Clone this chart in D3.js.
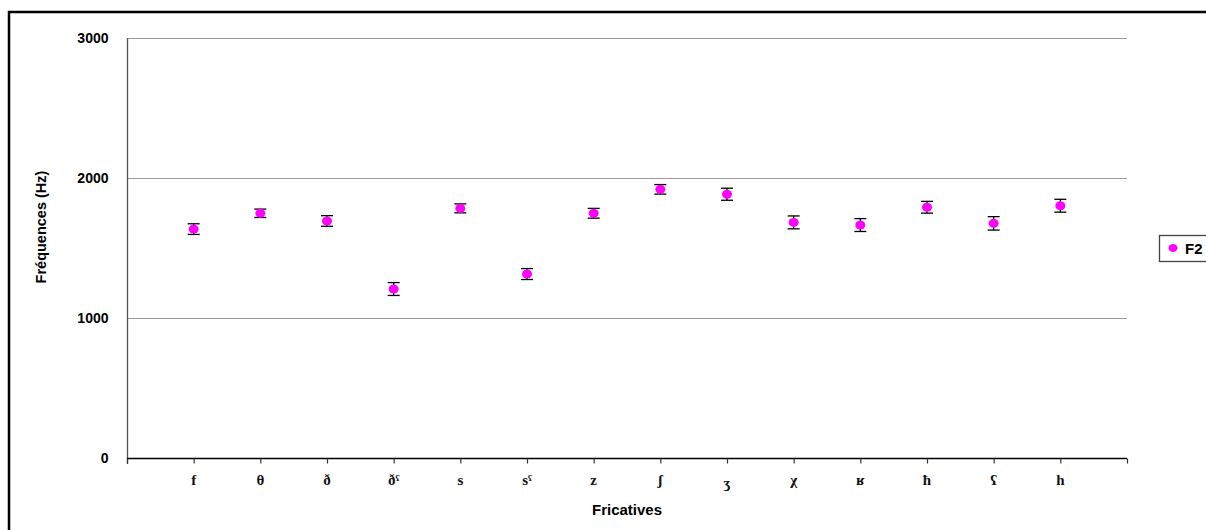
<!DOCTYPE html>
<html><head><meta charset="utf-8">
<script src="https://cdn.jsdelivr.net/npm/d3@7"></script>
<style>body{margin:0;background:#fff;}svg{display:block;}</style>
</head><body>
<svg id="c" width="1206" height="530"></svg>
<script>
const categories = ["f","θ","ð","ðˤ","s","sˤ","z","ʃ","ʒ","χ","ʁ","ħ","ʕ","h"];
const f2Means = [1635,1748,1693,1207,1783,1314,1748,1919,1884,1683,1664,1791,1676,1802];
const f2Errors = [38,30,38,46,32,39,35,34,43,46,46,42,48,46];
const yTicks = [0,1000,2000,3000];
const seriesName = "F2";

const svg = d3.select("#c");
// outer frame
svg.append("rect").attr("x",9).attr("y",12).attr("width",1300).attr("height",600)
  .attr("fill","none").attr("stroke","#000").attr("stroke-width",2.5);

const L=127, R=1127, T=38, B=458;
const x = d3.scaleLinear().domain([0,15]).range([L,R]);
const y = d3.scaleLinear().domain([0,3000]).range([B,T]);

// gridlines
svg.append("g").selectAll("line").data(yTicks.filter(d=>d>0)).join("line")
  .attr("x1",L).attr("x2",R).attr("y1",d=>y(d)+0.5).attr("y2",d=>y(d)+0.5)
  .attr("stroke","#9a9a9a").attr("stroke-width",1.2);

// y axis
const yAxis = svg.append("g").attr("transform",`translate(${L+0.5},0)`)
  .call(d3.axisLeft(y).tickValues(yTicks).tickSize(0).tickPadding(19).tickFormat(d3.format("d")));
yAxis.select(".domain").attr("stroke","#555").attr("stroke-width",1.3).attr("d",`M0,${T}V${B+6}`);
yAxis.selectAll("text").attr("font-family","Liberation Sans, Arial, sans-serif")
  .attr("font-weight","bold").attr("font-size",14).attr("fill","#000");

// x axis
const xAxis = svg.append("g").attr("transform",`translate(0,${B+0.5})`)
  .call(d3.axisBottom(x).tickValues(d3.range(0,16)).tickSize(5).tickFormat(""));
xAxis.select(".domain").attr("stroke","#000").attr("stroke-width",1.3).attr("d",`M${L},0H${R}`);
xAxis.selectAll(".tick line").attr("stroke","#333").attr("stroke-width",1.2);

// category labels
svg.append("g").selectAll("text").data(categories).join("text")
  .attr("x",(d,i)=>x(i+1)).attr("y",(d)=> d==="ʒ" ? 488 : 485)
  .attr("text-anchor","middle")
  .attr("font-family","Liberation Serif, Times New Roman, serif")
  .attr("font-weight","bold").attr("font-size",15).attr("fill","#111")
  .text(d=>d);

// axis titles
svg.append("text").attr("x",(L+R)/2).attr("y",515).attr("text-anchor","middle")
  .attr("font-family","Liberation Sans, Arial, sans-serif").attr("font-weight","bold")
  .attr("font-size",15).text("Fricatives");
svg.append("text").attr("transform","translate(46,227) rotate(-90)").attr("text-anchor","middle")
  .attr("font-family","Liberation Sans, Arial, sans-serif").attr("font-weight","bold")
  .attr("font-size",14.5).text("Fréquences (Hz)");

// error bars
const eb = svg.append("g").selectAll("g").data(f2Means).join("g");
eb.append("line").attr("x1",(d,i)=>x(i+1)).attr("x2",(d,i)=>x(i+1))
  .attr("y1",(d,i)=>y(d+f2Errors[i])).attr("y2",(d,i)=>y(d-f2Errors[i]))
  .attr("stroke","#000").attr("stroke-width",1.3);
[1,-1].forEach(s=>{
  eb.append("line").attr("x1",(d,i)=>x(i+1)-6).attr("x2",(d,i)=>x(i+1)+6)
    .attr("y1",(d,i)=>y(d+s*f2Errors[i])).attr("y2",(d,i)=>y(d+s*f2Errors[i]))
    .attr("stroke","#000").attr("stroke-width",1.3);
});
// points
svg.append("g").selectAll("ellipse").data(f2Means).join("ellipse")
  .attr("cx",(d,i)=>x(i+1)).attr("cy",d=>y(d)).attr("rx",5).attr("ry",4.5)
  .attr("fill","#ff00ff");

// legend
const lg = svg.append("g");
lg.append("rect").attr("x",1159.5).attr("y",235.5).attr("width",80).attr("height",26)
  .attr("fill","#fff").attr("stroke","#444").attr("stroke-width",1.3);
lg.append("ellipse").attr("cx",1173).attr("cy",248).attr("rx",4.5).attr("ry",4).attr("fill","#ff00ff");
lg.append("text").attr("x",1185).attr("y",254).attr("font-family","Liberation Sans, Arial, sans-serif")
  .attr("font-weight","bold").attr("font-size",15).text(seriesName);
</script>
</body></html>
